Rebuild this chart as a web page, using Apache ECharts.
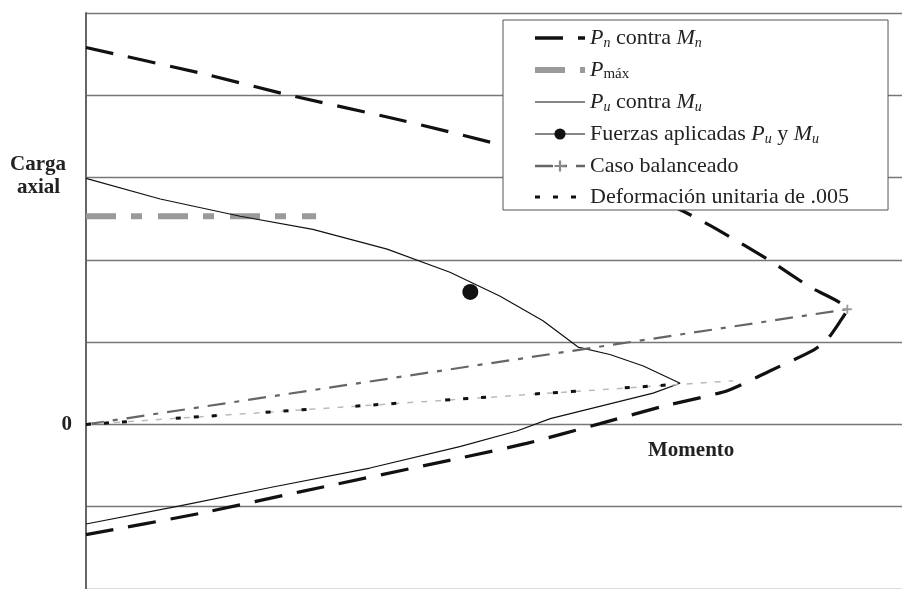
<!DOCTYPE html>
<html>
<head>
<meta charset="utf-8">
<script src="https://cdn.jsdelivr.net/npm/echarts@6/dist/echarts.min.js"></script>
<style>html,body{margin:0;padding:0;background:#fff}#c{width:902px;height:589px}</style>
</head>
<body>
<div id="c"></div>
<script>
// Interaction diagram (moment, axial load) in arbitrary units
const pnMn = [[0,4.58],[14.0,4.27],[25.0,4.0],[38.5,3.70],[50.7,3.40],[63.0,3.04],[73.2,2.59],[77.7,2.35],[83.8,1.99],[88.7,1.67],[93.3,1.40],[92.4,1.25],[90.9,1.04],[89.1,0.90],[83.8,0.65],[78.6,0.41],[70.7,0.22],[63.0,0.01],[54.0,-0.23],[45.8,-0.41],[26.2,-0.82],[14.0,-1.08],[0,-1.34]];
const pMax = [[0,2.53],[28.2,2.53]];
const puMu = [[0,2.99],[9.1,2.74],[18.9,2.53],[27.8,2.37],[36.9,2.13],[44.6,1.85],[50.7,1.56],[56.0,1.26],[60.3,0.94],[64.2,0.85],[68.3,0.71],[72.8,0.50],[69.5,0.38],[56.9,0.07],[52.8,-0.08],[45.8,-0.27],[34.8,-0.53],[22.9,-0.76],[11.5,-0.99],[0,-1.21]];
const applied = [[47.1,1.61]];
const balanced = [[0,0],[93.3,1.40]];
const strainBlack = [[0,0],[72.8,0.49]];
const strainGray = [[0,0],[79.3,0.53]];
const yTicks = {min:-2, max:5, interval:1};

const names = ['Pn contra Mn','Pmáx','Pu contra Mu','Fuerzas aplicadas Pu y Mu','Caso balanceado','Deformación unitaria de .005'];
const noSymbol = {'Pn contra Mn':1,'Pmáx':1,'Pu contra Mu':1,'Deformación unitaria de .005':1};
const legendWidth = {'Pn contra Mn':3.4,'Pmáx':6,'Pu contra Mu':1.2,'Fuerzas aplicadas Pu y Mu':1.2,'Caso balanceado':2.6,'Deformación unitaria de .005':3};
const rich = {
  'Pn contra Mn': '{i|P}{s|n}{t| contra }{i|M}{s|n}',
  'Pmáx': '{i|P}{r|máx}',
  'Pu contra Mu': '{i|P}{s|u}{t| contra }{i|M}{s|u}',
  'Fuerzas aplicadas Pu y Mu': '{t|Fuerzas aplicadas }{i|P}{s|u}{t| y }{i|M}{s|u}',
  'Caso balanceado': '{t|Caso balanceado}',
  'Deformación unitaria de .005': '{t|Deformación unitaria de .005}'
};
const serif = '"Liberation Serif", "DejaVu Serif", serif';
const plus = 'path://M4,0h2v4h4v2h-4v4h-2v-4h-4v-2h4z';

const chart = echarts.init(document.getElementById('c'), null, {renderer:'canvas'});
chart.setOption({
  animation:false,
  backgroundColor:'#fff',
  grid:{left:86, right:0, top:13, height:578, containLabel:false},
  xAxis:{type:'value', min:0, max:100, show:false},
  yAxis:{type:'value', min:yTicks.min, max:yTicks.max, interval:yTicks.interval,
    axisLine:{show:true, lineStyle:{color:'#666', width:2}},
    axisTick:{show:false},
    axisLabel:{margin:14, formatter:v => v===0 ? '0' : '', fontFamily:serif, fontWeight:'bold', fontSize:21, color:'#222'},
    splitLine:{show:true, lineStyle:{color:'#777', width:1.3}}
  },
  legend:{
    data:names.map(n => {
      const o = {name:n, lineStyle:{width:legendWidth[n]}};
      if (noSymbol[n]) o.itemStyle = {opacity:0};
      return o;
    }),
    orient:'vertical', left:503, top:20,
    backgroundColor:'#fff', borderColor:'#555', borderWidth:1,
    padding:[7,39,2,29], itemWidth:50, itemHeight:14, itemGap:9,
    formatter:n => rich[n],
    textStyle:{fontFamily:serif, fontSize:22, color:'#222', rich:{
      t:{fontFamily:serif, fontSize:22, color:'#222', lineHeight:24},
      i:{fontFamily:serif, fontSize:22, fontStyle:'italic', color:'#222', lineHeight:24},
      s:{fontFamily:serif, fontSize:14, fontStyle:'italic', color:'#222', lineHeight:12, verticalAlign:'bottom'},
      r:{fontFamily:serif, fontSize:15, color:'#222', lineHeight:12, verticalAlign:'bottom'}
    }},
    z:10
  },
  graphic:[
    {type:'text', left:10, top:154, style:{text:'Carga', font:'bold 21px '+serif, fill:'#222'}},
    {type:'text', left:17, top:177, style:{text:'axial', font:'bold 21px '+serif, fill:'#222'}},
    {type:'text', left:648, top:440, style:{text:'Momento', font:'bold 21px '+serif, fill:'#222'}}
  ],
  series:[
    {name:'Pn contra Mn', type:'line', data:pnMn, symbol:'none', smooth:0.2, color:'#111',
      lineStyle:{color:'#111', width:3.2, type:[28,15]}, z:3},
    {name:'Pmáx', type:'line', data:pMax, symbol:'none', color:'#9a9a9a',
      lineStyle:{color:'#9a9a9a', width:6, type:[30,15,11,16]}},
    {name:'Pu contra Mu', type:'line', data:puMu, symbol:'none', color:'#111',
      lineStyle:{color:'#111', width:1.2}},
    {name:'Fuerzas aplicadas Pu y Mu', type:'line', data:applied, symbol:'circle', symbolSize:16, color:'#111',
      itemStyle:{color:'#111'}, lineStyle:{color:'#111', width:1.2}},
    {name:'Caso balanceado', type:'line', symbol:plus, symbolSize:9, color:'#666',
      data:balanced.map((p,i)=> i===0 ? {value:p, symbol:'none'} : {value:p, itemStyle:{color:'#999'}}),
      itemStyle:{color:'#888'}, lineStyle:{color:'#666', width:2.2, type:[18,9,5,9]}},
    {name:'strainGray', type:'line', data:strainGray, symbol:'none', color:'#bbb',
      lineStyle:{color:'#bbb', width:1.5, type:[6,8]}},
    {name:'Deformación unitaria de .005', type:'line', data:strainBlack, symbol:'none', color:'#111',
      lineStyle:{color:'#111', width:3, type:[5,13,5,13,5,49]}}
  ]
});
</script>
</body>
</html>
